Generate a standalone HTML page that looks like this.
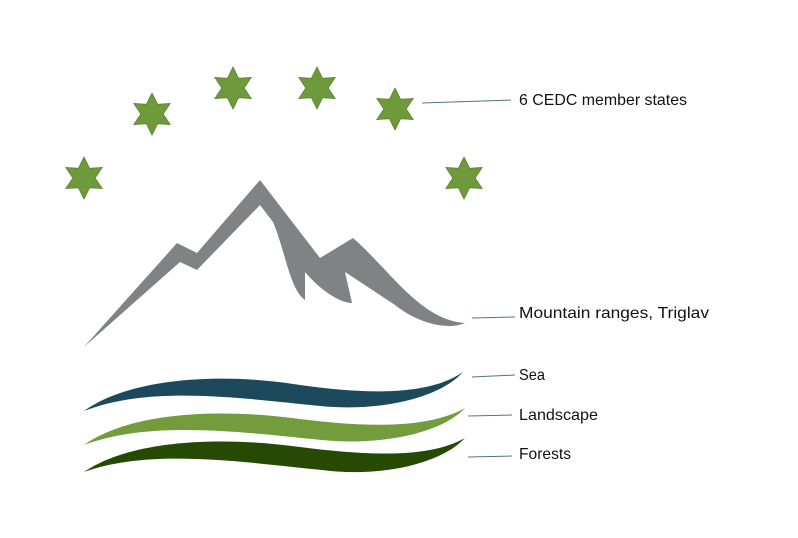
<!DOCTYPE html>
<html><head><meta charset="utf-8"><style>
html,body{margin:0;padding:0;background:#fff;}
svg{display:block;}
text{font-family:"Liberation Sans",sans-serif;font-size:16px;fill:#111;}
</style></head><body>
<svg width="798" height="538" viewBox="0 0 798 538" xmlns="http://www.w3.org/2000/svg">
<defs>
<polygon id="st" points="0,-21 5.6,-9.7 18.2,-10.5 11.2,0 18.2,10.5 5.6,9.7 0,21 -5.6,9.7 -18.2,10.5 -11.2,0 -18.2,-10.5 -5.6,-9.7" fill="#6f9a3c" stroke="#5a8030" stroke-width="0.8"/>
</defs>
<use href="#st" x="84" y="178"/>
<use href="#st" x="152" y="114"/>
<use href="#st" x="233" y="88"/>
<use href="#st" x="317" y="88"/>
<use href="#st" x="395" y="109"/>
<use href="#st" x="464" y="178"/>
<path d="M84,347 L177,243 L197,253 L260,180 L320,258 L353,238 C390,270 420,320 465,323 C450,330 420,325 395,305 L345,272 L352,303 C340,303 320,290 305,272 L305,300 C290,290 285,250 273,222 L260,205 L197,270 L180,262 Z" fill="#808385"/>
<path d="M84,411 C130,378 220,372 300,385 C370,395 430,395 463,372 C440,398 380,412 320,406 C240,398 150,385 84,411 Z" fill="#1c4a5c"/>
<path d="M84,445 C130,412 220,408 300,419 C370,428 430,428 465,408 C442,433 382,446 322,440 C242,432 150,420 84,445 Z" fill="#739c3d"/>
<path d="M84,472 C130,440 220,436 300,447 C370,456 430,458 465,438 C442,463 382,478 322,470 C242,462 150,448 84,472 Z" fill="#264a03"/>
<g stroke="#4f7585" stroke-width="1">
<line x1="422" y1="103" x2="511" y2="100"/>
<line x1="472" y1="318" x2="515" y2="317"/>
<line x1="472" y1="377" x2="515" y2="375"/>
<line x1="468" y1="416" x2="512" y2="415"/>
<line x1="468" y1="457" x2="512" y2="456"/>
</g>
<text x="519" y="105" textLength="168" lengthAdjust="spacingAndGlyphs">6 CEDC member states</text>
<text x="519" y="318" textLength="190" lengthAdjust="spacingAndGlyphs">Mountain ranges, Triglav</text>
<text x="519" y="380" textLength="26" lengthAdjust="spacingAndGlyphs">Sea</text>
<text x="519" y="420" textLength="79" lengthAdjust="spacingAndGlyphs">Landscape</text>
<text x="519" y="459" textLength="52" lengthAdjust="spacingAndGlyphs">Forests</text>
</svg>
</body></html>
